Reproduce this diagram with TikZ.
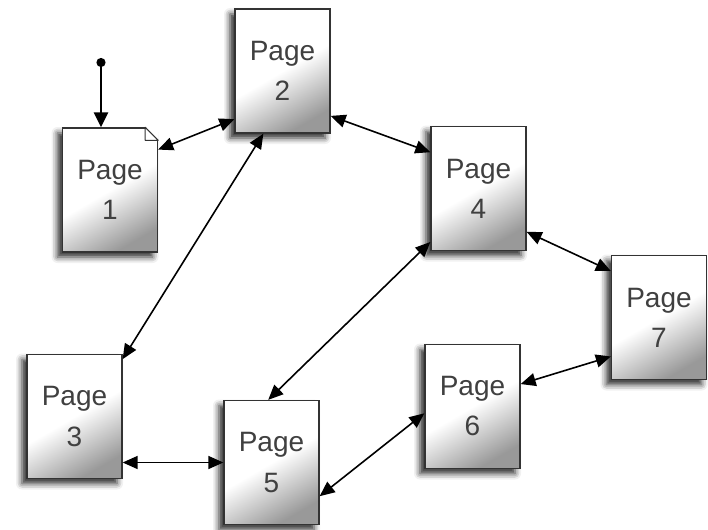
\documentclass[tikz,border=0pt]{standalone}
\usepackage{fontspec}
\setmainfont{Liberation Sans}
\usepackage{tikz}
\usetikzlibrary{arrows.meta, shadows.blur, calc}

\begin{document}
\begin{tikzpicture}[
  x=1pt, y=-1pt,
  page/.style={
    rectangle,
    draw=black!80,
    line width=1.3pt,
    minimum width=95pt,
    minimum height=124pt,
    align=center,
    inner sep=0pt,
    font=\fontsize{28}{40}\selectfont,
    text=black!75,
    top color=white,
    bottom color=black!40,
    middle color=white,
    shading angle=30,
    blur shadow={shadow xshift=-5pt, shadow yshift=-5pt, shadow blur radius=6pt, shadow opacity=85},
  },
  link/.style={{Triangle[length=15pt, width=13pt]}-{Triangle[length=15pt, width=13pt]}, line width=1.6pt},
  entry/.style={{Circle[length=9pt]}-{Triangle[length=15pt, width=14pt]}, line width=2.4pt},
]
\useasboundingbox (0,0) rectangle (708,529);

% ===== PAGES =====
\node[page] (p1) at (110,190) {Page\\1};
\node[page] (p2) at (282.5,71) {Page\\2};
\node[page] (p3) at (74.5,416.5) {Page\\3};
\node[page] (p4) at (478.5,188.5) {Page\\4};
\node[page] (p5) at (271.5,462.5) {Page\\5};
\node[page] (p6) at (472.5,406.5) {Page\\6};
\node[page] (p7) at (659,317.5) {Page\\7};

% dog-ear on the first page
\fill[white] ([xshift=-13pt]p1.north east) -- ([xshift=1pt, yshift=1pt]p1.north east) -- ([yshift=-13pt]p1.north east) -- cycle;
\draw[black!80, line width=1pt, line join=round]
  ([xshift=-13pt]p1.north east) -- ([yshift=-13pt]p1.north east)
  -- ([xshift=-13pt, yshift=-13pt]p1.north east) -- cycle;

% ===== ENTRY =====
\coordinate (start) at (101,58);
\draw[entry] (start) -- (start |- p1.north);

% ===== LINKS =====
\draw[link] (p1.40) -- (p2.225);
\draw[link] (p2.-43) -- (p4.143);
\draw[link] (p2.253) -- (p3.50);
\draw[link] (p4.-42) -- (p7.136);
\draw[link] (p4.228) -- (p5.93);
\draw[link] (p7.219) -- (p6.25);
\draw[link] (p6.188) -- (p5.-35);
\draw[link] (p5.west -| p3.east) -- (p5.west);

\end{tikzpicture}
\end{document}
